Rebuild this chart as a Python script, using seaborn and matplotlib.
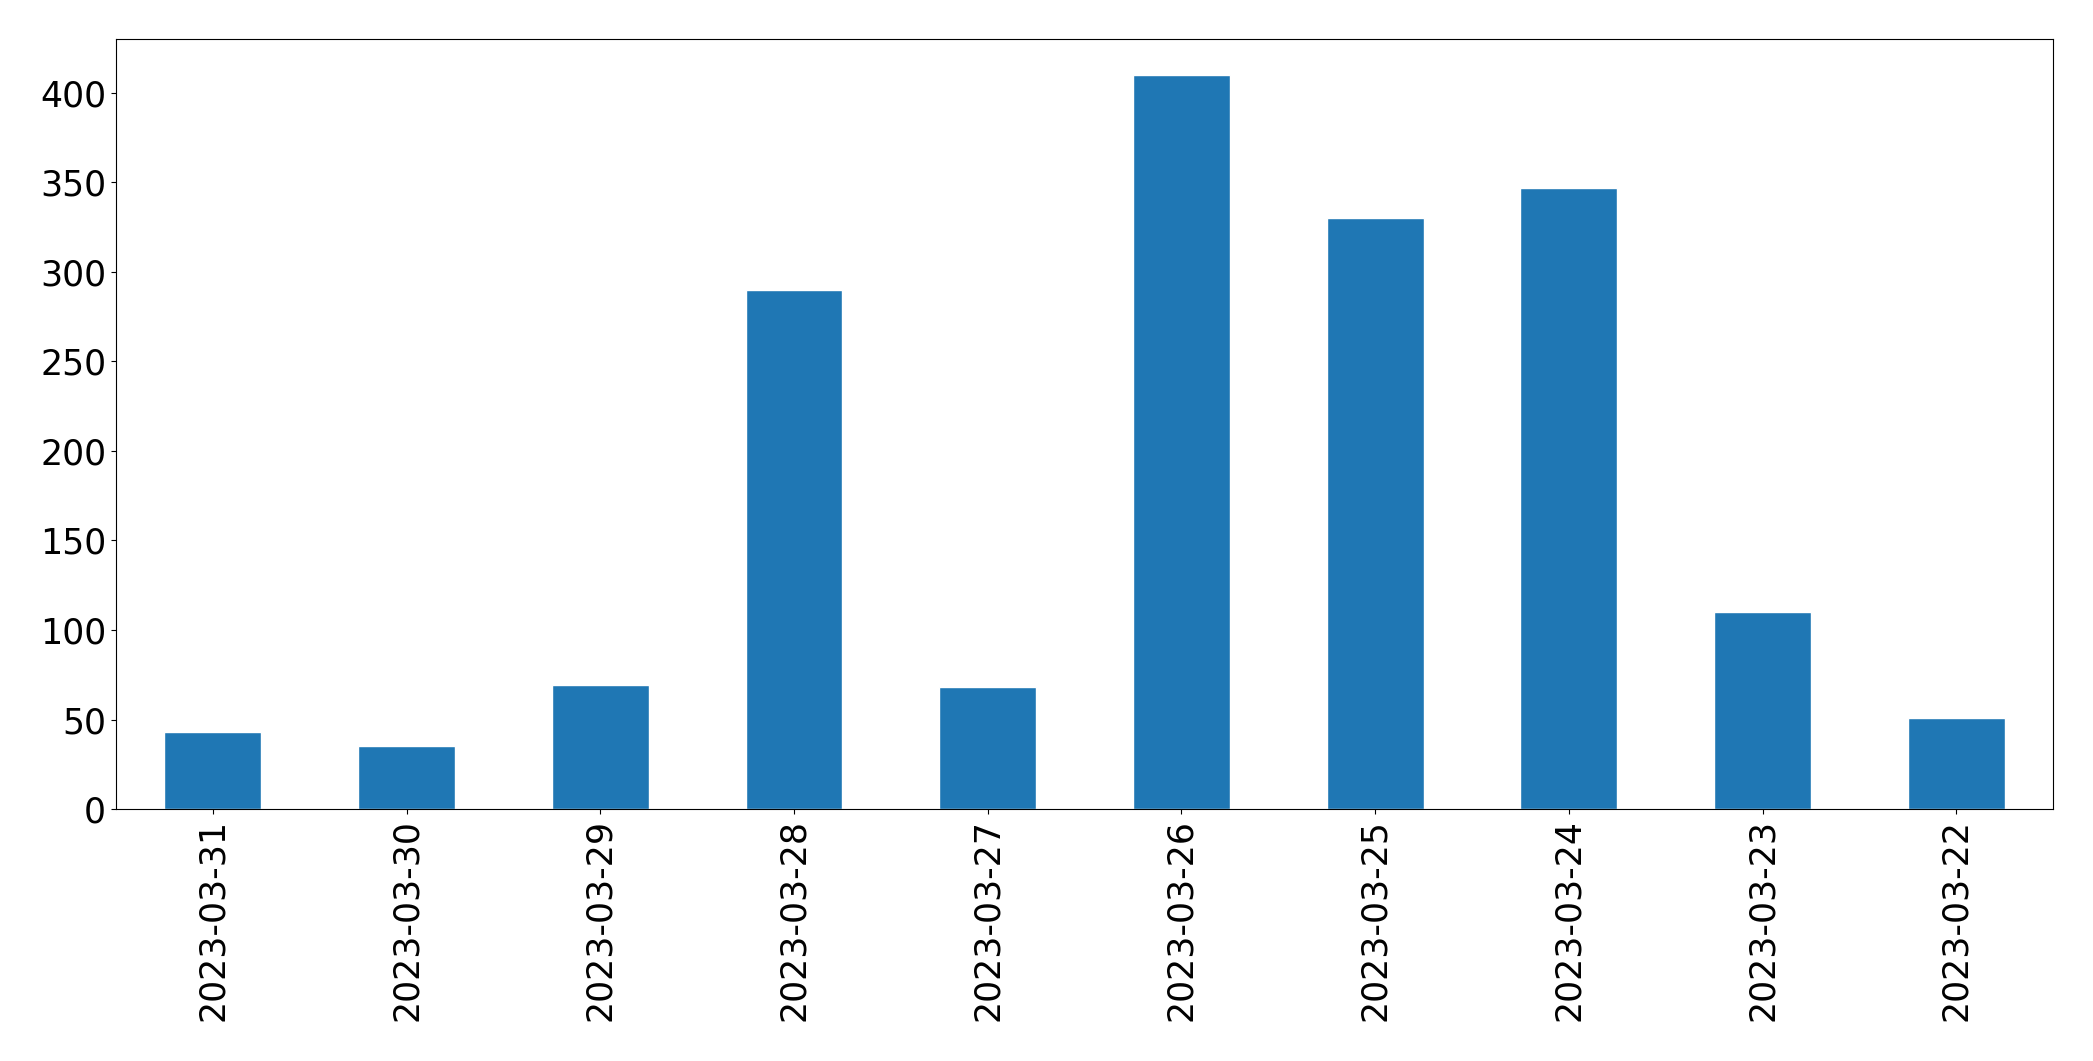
import matplotlib
matplotlib.use('Agg')
import matplotlib.pyplot as plt
import numpy as np
import pandas as pd
import seaborn as sns

dates = ['2023-03-31', '2023-03-30', '2023-03-29', '2023-03-28', '2023-03-27',
         '2023-03-26', '2023-03-25', '2023-03-24', '2023-03-23', '2023-03-22']
counts = [43, 35, 69, 290, 68, 410, 330, 347, 110, 51]

sns.set_style('ticks')
plt.rcParams['font.family'] = ['DejaVu Sans']

m_data = pd.DataFrame({'date': dates, 'count': counts})

fig = plt.figure(figsize=(20.93, 10.61), dpi=100)
ax = fig.add_axes([0.0554, 0.2375, 0.9256, 0.7255])
sns.barplot(data=m_data, x='date', y='count', order=dates, color='#1f77b4',
            saturation=1, width=0.5, ax=ax)
ax.set_xlim(-0.5, len(dates) - 0.5)
ax.set_ylim(0, 430)
ax.set_xlabel('')
ax.set_ylabel('')
ax.tick_params(axis='x', labelrotation=90, labelsize=25, colors='black')
ax.tick_params(axis='y', labelsize=25, colors='black')
for s in ax.spines.values():
    s.set_visible(True)
    s.set_color('black')
    s.set_linewidth(0.8)

fig.savefig('out.png', dpi=100)
